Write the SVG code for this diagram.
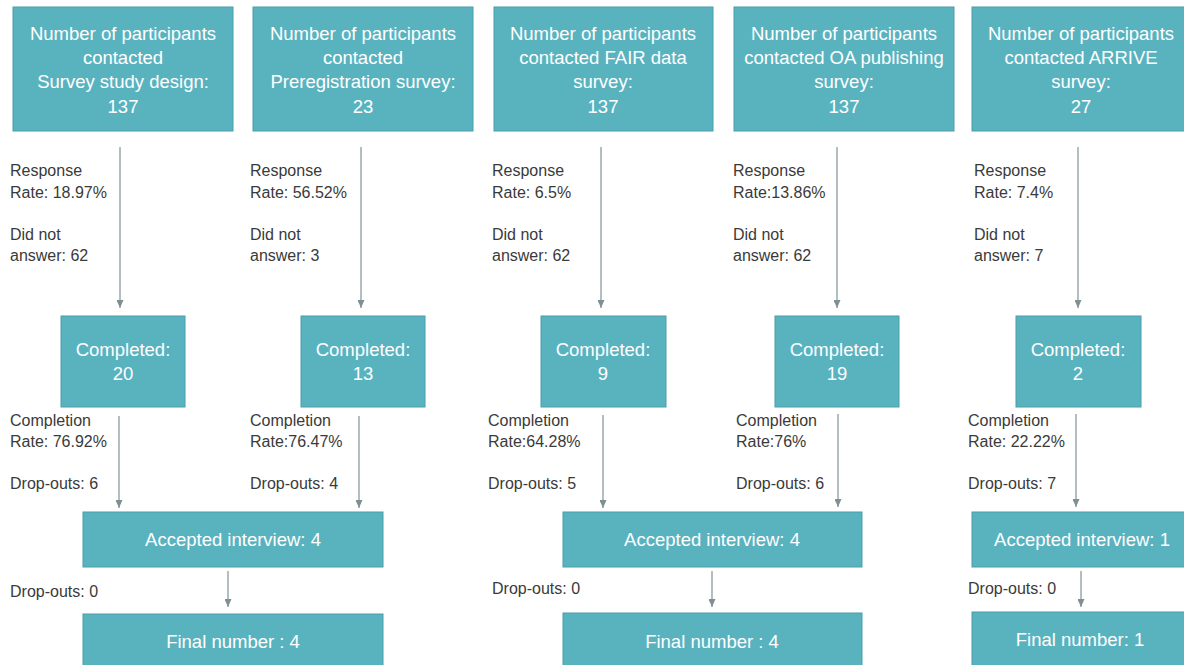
<svg xmlns="http://www.w3.org/2000/svg" width="1184" height="665" viewBox="0 0 1184 665">
<style>
.box{fill:#59b3bf;stroke:#4a9eaa;stroke-width:1}
.bt{font-family:"Liberation Sans",Arial,sans-serif;font-size:18.5px;fill:#ffffff;text-anchor:middle}
.lb{font-family:"Liberation Sans",Arial,sans-serif;font-size:16px;fill:#3a3a3a}
.cn{stroke:#8a9ba0;stroke-width:1.3;fill:none;marker-end:url(#ah)}
</style>
<defs>
<marker id="ah" markerUnits="userSpaceOnUse" markerWidth="8" markerHeight="7" refX="8" refY="3.5" orient="auto">
<path d="M0,0 L8,3.5 L0,7 z" fill="#7f9095"/>
</marker>
</defs>
<rect width="1184" height="665" fill="#ffffff"/>

<g id="top1"><rect class="box" x="13" y="7" width="220" height="124"/>
<text class="bt" x="123" y="40">Number of participants</text>
<text class="bt" x="123" y="64">contacted</text>
<text class="bt" x="123" y="88">Survey study design:</text>
<text class="bt" x="123" y="113">137</text></g>

<g id="top2"><rect class="box" x="253" y="7" width="220" height="124"/>
<text class="bt" x="363" y="40">Number of participants</text>
<text class="bt" x="363" y="64">contacted</text>
<text class="bt" x="363" y="88">Preregistration survey:</text>
<text class="bt" x="363" y="113">23</text></g>

<g id="top3"><rect class="box" x="494" y="7" width="219" height="124"/>
<text class="bt" x="603" y="40">Number of participants</text>
<text class="bt" x="603" y="64">contacted FAIR data</text>
<text class="bt" x="603" y="88">survey:</text>
<text class="bt" x="603" y="113">137</text></g>

<g id="top4"><rect class="box" x="734" y="7" width="220" height="124"/>
<text class="bt" x="844" y="40">Number of participants</text>
<text class="bt" x="844" y="64">contacted OA publishing</text>
<text class="bt" x="844" y="88">survey:</text>
<text class="bt" x="844" y="113">137</text></g>

<g id="top5"><rect class="box" x="972" y="7" width="220" height="124"/>
<text class="bt" x="1081" y="40">Number of participants</text>
<text class="bt" x="1081" y="64">contacted ARRIVE</text>
<text class="bt" x="1081" y="88">survey:</text>
<text class="bt" x="1081" y="113">27</text></g>

<g id="comp1"><rect class="box" x="61" y="316" width="124" height="91"/>
<text class="bt" x="123" y="356">Completed:</text>
<text class="bt" x="123" y="380">20</text></g>
<g id="comp2"><rect class="box" x="301" y="316" width="124" height="91"/>
<text class="bt" x="363" y="356">Completed:</text>
<text class="bt" x="363" y="380">13</text></g>
<g id="comp3"><rect class="box" x="541" y="316" width="125" height="91"/>
<text class="bt" x="603" y="356">Completed:</text>
<text class="bt" x="603" y="380">9</text></g>
<g id="comp4"><rect class="box" x="775" y="316" width="124" height="91"/>
<text class="bt" x="837" y="356">Completed:</text>
<text class="bt" x="837" y="380">19</text></g>
<g id="comp5"><rect class="box" x="1016" y="316" width="125" height="91"/>
<text class="bt" x="1078" y="356">Completed:</text>
<text class="bt" x="1078" y="380">2</text></g>

<g id="acc1"><rect class="box" x="83" y="512" width="300" height="55"/>
<text class="bt" x="233" y="546">Accepted interview: 4</text></g>
<g id="acc2"><rect class="box" x="563" y="512" width="299" height="55"/>
<text class="bt" x="712" y="546">Accepted interview: 4</text></g>
<g id="acc3"><rect class="box" x="972" y="512" width="230" height="55"/>
<text class="bt" x="1082" y="546">Accepted interview: 1</text></g>

<g id="fin1"><rect class="box" x="83" y="614" width="300" height="70"/>
<text class="bt" x="233" y="648">Final number : 4</text></g>
<g id="fin2"><rect class="box" x="563" y="613" width="299" height="70"/>
<text class="bt" x="712" y="648">Final number : 4</text></g>
<g id="fin3"><rect class="box" x="972" y="612" width="230" height="70"/>
<text class="bt" x="1080" y="646">Final number: 1</text></g>

<g id="connectors">
<line class="cn" x1="120" y1="147" x2="120" y2="308"/>
<line class="cn" x1="361" y1="147" x2="361" y2="308"/>
<line class="cn" x1="601" y1="147" x2="601" y2="308"/>
<line class="cn" x1="837" y1="147" x2="837" y2="308"/>
<line class="cn" x1="1078" y1="147" x2="1078" y2="308"/>
<line class="cn" x1="119" y1="416" x2="119" y2="508"/>
<line class="cn" x1="359" y1="416" x2="359" y2="508"/>
<line class="cn" x1="603" y1="415" x2="603" y2="508"/>
<line class="cn" x1="838" y1="414" x2="838" y2="507"/>
<line class="cn" x1="1076" y1="414" x2="1076" y2="507"/>
<line class="cn" x1="228" y1="571" x2="228" y2="607"/>
<line class="cn" x1="712" y1="571" x2="712" y2="607"/>
<line class="cn" x1="1081" y1="571" x2="1081" y2="607"/>
</g>

<g id="labels">
<text class="lb" x="10" y="176">Response</text>
<text class="lb" x="10" y="198">Rate: 18.97%</text>
<text class="lb" x="10" y="240">Did not</text>
<text class="lb" x="10" y="261">answer: 62</text>
<text class="lb" x="250" y="176">Response</text>
<text class="lb" x="250" y="198">Rate: 56.52%</text>
<text class="lb" x="250" y="240">Did not</text>
<text class="lb" x="250" y="261">answer: 3</text>
<text class="lb" x="492" y="176">Response</text>
<text class="lb" x="492" y="198">Rate: 6.5%</text>
<text class="lb" x="492" y="240">Did not</text>
<text class="lb" x="492" y="261">answer: 62</text>
<text class="lb" x="733" y="176">Response</text>
<text class="lb" x="733" y="198">Rate:13.86%</text>
<text class="lb" x="733" y="240">Did not</text>
<text class="lb" x="733" y="261">answer: 62</text>
<text class="lb" x="974" y="176">Response</text>
<text class="lb" x="974" y="198">Rate: 7.4%</text>
<text class="lb" x="974" y="240">Did not</text>
<text class="lb" x="974" y="261">answer: 7</text>

<text class="lb" x="10" y="426">Completion</text>
<text class="lb" x="10" y="447">Rate: 76.92%</text>
<text class="lb" x="10" y="489">Drop-outs: 6</text>
<text class="lb" x="250" y="426">Completion</text>
<text class="lb" x="250" y="447">Rate:76.47%</text>
<text class="lb" x="250" y="489">Drop-outs: 4</text>
<text class="lb" x="488" y="426">Completion</text>
<text class="lb" x="488" y="447">Rate:64.28%</text>
<text class="lb" x="488" y="489">Drop-outs: 5</text>
<text class="lb" x="736" y="426">Completion</text>
<text class="lb" x="736" y="447">Rate:76%</text>
<text class="lb" x="736" y="489">Drop-outs: 6</text>
<text class="lb" x="968" y="426">Completion</text>
<text class="lb" x="968" y="447">Rate: 22.22%</text>
<text class="lb" x="968" y="489">Drop-outs: 7</text>

<text class="lb" x="10" y="597">Drop-outs: 0</text>
<text class="lb" x="492" y="594">Drop-outs: 0</text>
<text class="lb" x="968" y="594">Drop-outs: 0</text>
</g>
</svg>
